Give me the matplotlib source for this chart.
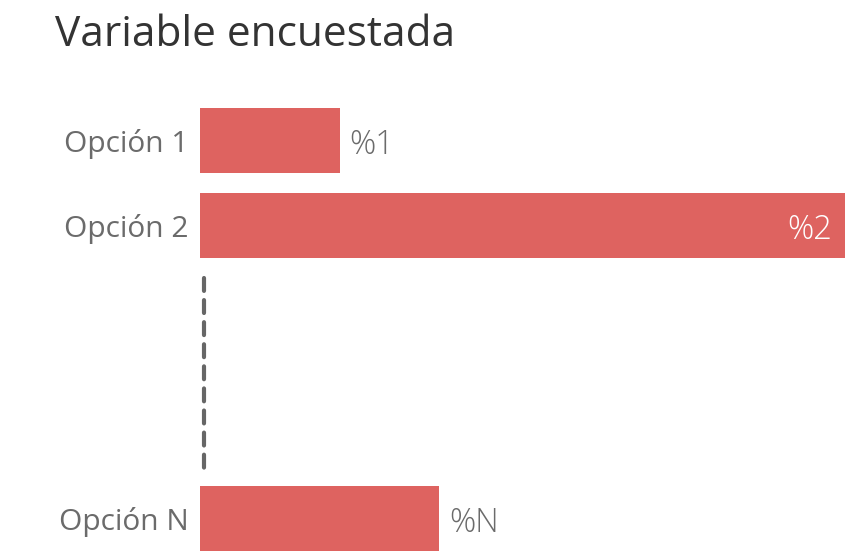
import matplotlib.pyplot as plt

# data
categories = ['Opción 1', 'Opción 2', 'Opción N']
values = [21.7, 100, 37.1]
value_labels = ['%1', '%2', '%N']
positions = [0, 1, 4.45]

bar_color = '#DE6360'
text_gray = '#6b6b6b'

plt.rcParams['font.family'] = ['Open Sans', 'DejaVu Sans']

fig = plt.figure(figsize=(8.66, 5.56), dpi=100)
W, H = 866, 556
ax = fig.add_axes([200 / W, 1 - 551 / H, 645 / W, (551 - 108) / H])

half = 32.5 / 85
ax.barh(positions, values, height=2 * half, color=bar_color, edgecolor='none')
ax.set_xlim(0, 100)
ax.set_ylim(positions[-1] + half, -half)

ax.set_yticks(positions)
ax.set_yticklabels(categories, fontsize=21.5, color=text_gray)
ax.tick_params(axis='y', length=0, pad=8)
ax.set_xticks([])
for s in ax.spines.values():
    s.set_visible(False)

# value labels: outside unless bar is full width
for y, v, lab in zip(positions, values, value_labels):
    if v > 90:
        ax.text(v - 2, y + 0.06, lab, ha='right', va='center', fontsize=23.5,
                color='white', fontweight='light')
    else:
        ax.text(v + 1.5, y + 0.06, lab, ha='left', va='center', fontsize=23.5,
                color=text_gray, fontweight='light')

# dashed line standing for the skipped options
ax.plot([0.62, 0.62], [1.62, 3.88], color='#666666', lw=3,
        linestyle=(0, (3.1, 2.2)), dash_capstyle='round', solid_capstyle='round')

fig.text(55 / W, 1 - 35 / H, 'Variable encuestada', fontsize=30.5, color='#333333',
         ha='left', va='center')

fig.savefig('out.png', dpi=100)
